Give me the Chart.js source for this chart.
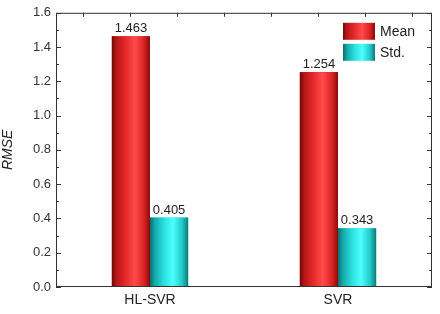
<!DOCTYPE html>
<html>
<head>
<meta charset="utf-8">
<script src="https://cdn.jsdelivr.net/npm/chart.js@4"></script>
<style>
  html, body { margin: 0; padding: 0; background: #fff; }
  #wrap { width: 440px; height: 314px; }
</style>
</head>
<body>
<div id="wrap"><canvas id="chart-bar-rmse"></canvas></div>
<script>
const categories = ["HL-SVR", "SVR"];
const meanValues = [1.463, 1.254];
const stdValues = [0.405, 0.343];
const seriesNames = ["Mean", "Std."];
const yMin = 0;
const yMax = 1.6;
const yStep = 0.2;

const FONT = "Arial, 'Liberation Sans', sans-serif";

// cylinder like shading, dark edges, bright middle
const shades = {
  red: ["#6e0808", "#b51717", "#e52828", "#ff4b4b", "#d92121", "#850b0b"],
  cyan: ["#0b6c6c", "#16a6a6", "#2adcdc", "#4cffff", "#22c6c6", "#0d7878"],
};

function barGradient(ctx, x0, x1, stops) {
  const g = ctx.createLinearGradient(x0, 0, x1, 0);
  const pos = [0, 0.12, 0.35, 0.6, 0.85, 1];
  stops.forEach((c, i) => g.addColorStop(pos[i], c));
  return g;
}

const styling = {
  id: "styling",
  afterDatasetsDraw(chart) {
    const ctx = chart.ctx;
    const area = chart.chartArea;
    const yScale = chart.scales.y;
    ctx.save();

    // bars with shading + value labels
    chart.data.datasets.forEach((ds, di) => {
      const meta = chart.getDatasetMeta(di);
      meta.data.forEach((bar, i) => {
        const p = bar.getProps(["x", "y", "base", "width"], true);
        const x0 = p.x - p.width / 2;
        const x1 = p.x + p.width / 2;
        ctx.fillStyle = barGradient(ctx, x0, x1, shades[ds.shade]);
        ctx.fillRect(x0, p.y, p.width, p.base - p.y);
        ctx.fillStyle = "#222";
        ctx.font = "13px " + FONT;
        ctx.textAlign = "center";
        ctx.textBaseline = "bottom";
        ctx.fillText(ds.data[i].toFixed(3), p.x, p.y - 1);
      });
    });

    // frame
    ctx.strokeStyle = "#333";
    ctx.lineWidth = 1;
    ctx.strokeRect(area.left + 0.5, area.top + 0.5, area.width - 1, area.height - 1);

    // inward ticks on left and right
    ctx.beginPath();
    for (let v = yMin; v <= yMax + 1e-9; v += yStep / 2) {
      const y = Math.round(yScale.getPixelForValue(v)) + 0.5;
      const major = Math.abs(v / yStep - Math.round(v / yStep)) < 1e-6;
      const len = major ? 5 : 3;
      ctx.moveTo(area.left, y);
      ctx.lineTo(area.left + len, y);
      ctx.moveTo(area.right, y);
      ctx.lineTo(area.right - len, y);
    }
    // top ticks
    for (let k = 0; k < 8; k++) {
      const x = Math.round(area.left + (k + 0.58) * area.width / 8) + 0.5;
      ctx.moveTo(x, area.top);
      ctx.lineTo(x, area.top + 4);
    }
    ctx.stroke();

    // legend
    chart.data.datasets.forEach((ds, di) => {
      const bx = area.right - 89;
      const by = area.top + 10 + di * 21;
      ctx.fillStyle = barGradient(ctx, bx, bx + 32, shades[ds.shade]);
      ctx.fillRect(bx, by, 32, 17);
      ctx.fillStyle = "#222";
      ctx.font = "14px " + FONT;
      ctx.textAlign = "left";
      ctx.textBaseline = "middle";
      ctx.fillText(ds.label, bx + 37, by + 9);
    });
    ctx.restore();
  },
};

new Chart(document.getElementById("chart-bar-rmse").getContext("2d"), {
  type: "bar",
  plugins: [styling],
  data: {
    labels: categories,
    datasets: [
      {
        label: seriesNames[0],
        data: meanValues,
        backgroundColor: "#e52828",
        shade: "red",
        categoryPercentage: 0.406,
        barPercentage: 1.0,
      },
      {
        label: seriesNames[1],
        data: stdValues,
        backgroundColor: "#2adcdc",
        shade: "cyan",
        categoryPercentage: 0.406,
        barPercentage: 1.0,
      },
    ],
  },
  options: {
    responsive: true,
    maintainAspectRatio: false,
    animation: false,
    layout: {
      padding: { top: 0, right: 8, left: 0, bottom: 0 },
    },
    plugins: {
      legend: { display: false },
      tooltip: { enabled: false },
    },
    scales: {
      x: {
        grid: { display: false, drawTicks: false },
        border: { display: false },
        ticks: {
          color: "#222",
          padding: 5,
          font: { size: 14, family: FONT },
        },
        afterFit(scale) {
          scale.height = 27;
        },
      },
      y: {
        min: yMin,
        max: yMax,
        grid: { display: false, drawTicks: false },
        border: { display: false },
        ticks: {
          stepSize: yStep,
          color: "#333",
          padding: 5,
          font: { size: 13, family: FONT },
          callback: (v) => Number(v).toFixed(1),
        },
        title: {
          display: true,
          text: "RMSE",
          color: "#222",
          padding: { top: 0, bottom: 8 },
          font: { size: 14, family: FONT, style: "italic" },
        },
        afterFit(scale) {
          scale.width = 56;
        },
      },
    },
  },
});
</script>
</body>
</html>
